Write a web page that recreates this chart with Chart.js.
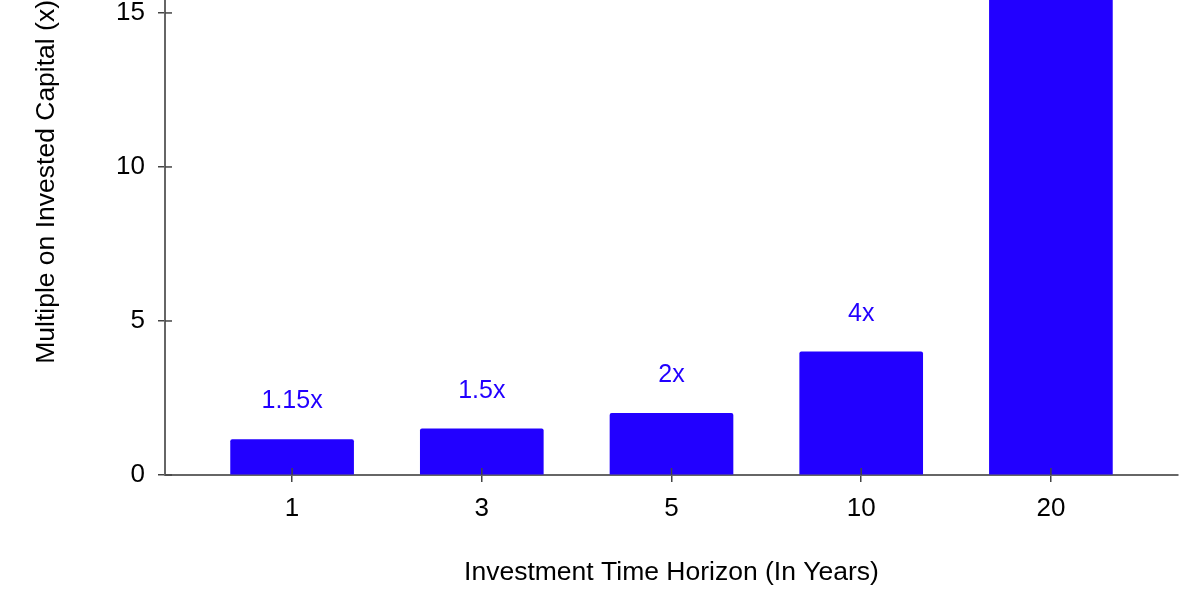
<!DOCTYPE html>
<html>
<head>
<meta charset="utf-8">
<script src="https://cdn.jsdelivr.net/npm/chart.js@4.4.1/dist/chart.umd.min.js"></script>
<style>
  html, body { margin: 0; padding: 0; background: #fff; }
  #wrap { width: 1200px; height: 600px; }
</style>
</head>
<body>
<div id="wrap"><canvas id="c" width="1200" height="600"></canvas></div>
<script>
const categories = ['1', '3', '5', '10', '20'];
const multiples = [1.15, 1.5, 2, 4, 16];
const valueLabels = ['1.15x', '1.5x', '2x', '4x', '16x'];
const yTicks = [0, 5, 10, 15];

const FONT = "'Liberation Sans', Arial, sans-serif";
const BLUE = '#2200ff';
const AXIS = '#666666';

const innerTicks = {
  id: 'innerTicks',
  afterDatasetsDraw(chart) {
    const ctx = chart.ctx;
    const xs = chart.scales.x, ys = chart.scales.y;
    const area = chart.chartArea;
    ctx.save();
    ctx.strokeStyle = '#444';
    ctx.lineWidth = 1.5;
    xs.ticks.forEach(t => {
      const px = xs.getPixelForValue(t.value);
      ctx.beginPath(); ctx.moveTo(px, area.bottom); ctx.lineTo(px, area.bottom - 7); ctx.stroke();
    });
    ys.ticks.forEach(t => {
      const py = ys.getPixelForValue(t.value);
      ctx.beginPath(); ctx.moveTo(area.left, py); ctx.lineTo(area.left + 7, py); ctx.stroke();
    });
    ctx.restore();
  }
};

const barLabels = {
  id: 'barLabels',
  afterDatasetsDraw(chart) {
    const ctx = chart.ctx;
    const meta = chart.getDatasetMeta(0);
    ctx.save();
    ctx.fillStyle = BLUE;
    ctx.font = '25px ' + FONT;
    ctx.textAlign = 'center';
    ctx.textBaseline = 'middle';
    meta.data.forEach((bar, i) => {
      ctx.fillText(valueLabels[i], bar.x, bar.y - 38);
    });
    ctx.restore();
  }
};

new Chart(document.getElementById('c'), {
  type: 'bar',
  data: {
    datasets: [{
      data: categories.map((c, i) => ({ x: i, y: multiples[i] })),
      backgroundColor: BLUE,
      borderWidth: 0,
      borderRadius: 2,
      borderSkipped: 'bottom',
      barThickness: 123
    }]
  },
  options: {
    responsive: false,
    animation: false,
    events: [],
    layout: { padding: { left: 0, right: 22, top: 0, bottom: 0 } },
    plugins: { legend: { display: false }, tooltip: { enabled: false } },
    scales: {
      x: {
        type: 'linear',
        offset: false,
        min: -0.67,
        max: 4.67,
        afterFit(s) { s.height = 125; s.paddingLeft = 0; s.paddingRight = 0; },
        afterBuildTicks(s) { s.ticks = categories.map((c, i) => ({ value: i })); },
        grid: { offset: false, drawOnChartArea: false, drawTicks: true, tickLength: 7, color: '#444', lineWidth: 1.5 },
        border: { display: true, color: AXIS, width: 2 },
        ticks: {
          autoSkip: false,
          maxRotation: 0,
          padding: 11,
          color: '#000',
          font: { family: FONT, size: 26 },
          callback: (v) => categories[v]
        },
        title: {
          display: true,
          text: 'Investment Time Horizon (In Years)',
          color: '#000',
          font: { family: FONT, size: 26.5 },
          padding: { top: 0, bottom: 11 }
        }
      },
      y: {
        type: 'linear',
        min: 0,
        max: 15.42,
        afterFit(s) { s.width = 165; s.paddingTop = 0; s.paddingBottom = 0; },
        afterBuildTicks(s) { s.ticks = yTicks.map(v => ({ value: v })); },
        grid: { drawOnChartArea: false, drawTicks: true, tickLength: 7, color: '#444', lineWidth: 1.5 },
        border: { display: true, color: AXIS, width: 2 },
        ticks: {
          includeBounds: false,
          padding: 13,
          color: '#000',
          font: { family: FONT, size: 26 },
          callback: (v) => String(v)
        },
        title: {
          display: true,
          text: 'Multiple on Invested Capital (x)',
          align: 'end',
          color: '#000',
          font: { family: FONT, size: 26.5 },
          padding: { top: 31, bottom: 0 }
        }
      }
    }
  },
  plugins: [innerTicks, barLabels]
});
</script>
</body>
</html>
